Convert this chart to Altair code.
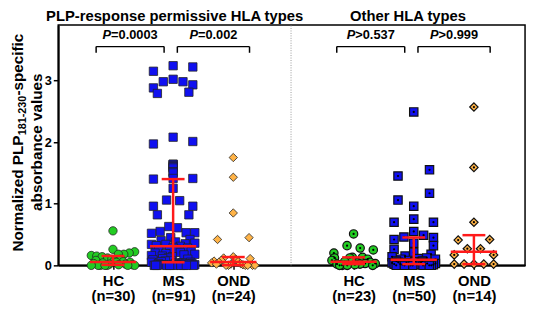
import altair as alt
import pandas as pd
import numpy as np

# ---------------- data ----------------
group_names = ["HC", "MS", "OND", "HC", "MS", "OND"]
group_n = [30, 91, 24, 23, 50, 14]
panel_titles = ["PLP-response permissive HLA types", "Other HLA types"]
ytitle_parts = ["Normalized PLP", "181-230", "-specific"]
ytitle_line2 = "absorbance values"
slots = [1, 2, 3, 5, 6, 7]

hc_perm = [0.56, 0.26, 0.22, 0.20, 0.18, 0.18, 0.16, 0.15, 0.14, 0.12, 0.10, 0.10,
           0.08, 0.07, 0.06, 0.05, 0.05, 0.04, 0.03, 0.02, 0.02, 0.01, 0.01,
           0.0, 0.0, 0.0, 0.0, 0.0, 0.0, 0.0]
ms_perm = [3.24, 3.22, 3.15, 3.02, 2.98, 2.98, 2.93, 2.88, 2.81, 2.79,
           2.08, 2.01, 1.97,
           1.64, 1.64, 1.62, 1.60, 1.58, 1.52, 1.50, 1.41, 1.41, 1.40,
           1.25, 1.06, 1.05, 0.96, 0.96, 0.82, 0.82, 0.63, 0.61, 0.55, 0.53, 0.53, 0.52,
           0.45, 0.42, 0.40, 0.38, 0.36, 0.35, 0.34, 0.34, 0.32, 0.31,
           0.29, 0.28, 0.26, 0.25, 0.24, 0.22, 0.21, 0.20, 0.19, 0.18, 0.17, 0.16,
           0.15, 0.14, 0.12, 0.11, 0.10, 0.09, 0.08, 0.07, 0.06, 0.05,
           0.05, 0.04, 0.04, 0.03, 0.03, 0.03, 0.02, 0.02, 0.02, 0.01, 0.01, 0.01, 0.01,
           0.0, 0.0, 0.0, 0.0, 0.0, 0.0, 0.0, 0.0, 0.0, 0.0]
ond_perm = [1.75, 1.43, 0.85, 0.45, 0.42, 0.14, 0.12, 0.11, 0.10, 0.08, 0.07, 0.06,
            0.05, 0.04, 0.03, 0.02, 0.02, 0.01, 0.0, 0.0, 0.0, 0.0, 0.0, 0.0]
hc_other = [0.51, 0.32, 0.28, 0.25, 0.20, 0.13, 0.13, 0.12, 0.12, 0.10, 0.08, 0.06,
            0.05, 0.04, 0.03, 0.03, 0.02, 0.02, 0.01, 0.0, 0.0, 0.0, 0.0]
ms_other = [2.49, 1.55, 1.45, 1.17, 1.06, 0.96, 0.75, 0.70, 0.70, 0.55, 0.49, 0.46,
            0.45, 0.42, 0.36, 0.32, 0.26, 0.21, 0.18, 0.15, 0.14, 0.12, 0.11, 0.10, 0.10,
            0.08, 0.07, 0.07, 0.06, 0.05, 0.05, 0.04, 0.04, 0.03, 0.03, 0.03, 0.02, 0.02,
            0.02, 0.01, 0.01, 0.01, 0.01, 0.0, 0.0, 0.0, 0.0, 0.0, 0.0, 0.0]
ond_other = [2.57, 1.59, 0.70, 0.42, 0.41, 0.27, 0.27, 0.17, 0.17, 0.02, 0.02, 0.02,
             0.02, 0.02]

series = [hc_perm, ms_perm, ond_perm, hc_other, ms_other, ond_other]

p_labels = ["=0.0003", "=0.002", ">0.537", ">0.999"]
p_pairs = [(0, 1), (1, 2), (3, 4), (4, 5)]

# ---------------- layout helpers ----------------
W, H = 474, 244
XDOM = [0.09, 7.85]
YDOM = [0, 3.9]
xpx = W / (XDOM[1] - XDOM[0])
ypx = H / (YDOM[1] - YDOM[0])

# approximate Liberation Sans Bold advance widths (em units)
CW = {"N": .722, "o": .611, "r": .389, "m": .889, "a": .556, "l": .278, "i": .278,
      "z": .5, "e": .556, "d": .611, " ": .278, "P": .667, "L": .611, "-": .333,
      "s": .556, "p": .611, "c": .556, "f": .333, "=": .584, ">": .584, ".": .278}


def twidth(s, fs):
    return sum(CW.get(ch, .556) for ch in s) * fs


def row_scatter(vals, row_px=9.0):
    """GraphPad-like scatter: values grouped into rows, each row spread sideways."""
    order = sorted(range(len(vals)), key=lambda i: -vals[i])
    res = [0.0] * len(vals)
    rows_ = []
    cur = []
    for i in order:
        if cur and (vals[cur[0]] - vals[i]) * ypx > row_px:
            rows_.append(cur)
            cur = []
        cur.append(i)
    if cur:
        rows_.append(cur)
    for r in rows_:
        k = len(r)
        if k == 1:
            offs = [0.0]
        elif k == 2:
            offs = [16.0, -16.0]
        else:
            half = 20.0 if k <= 5 else 22.0
            grid = list(np.linspace(-half, half, k))
            grid.sort(key=lambda g: (abs(g), -g))
            if k > 5:
                perm = [(j * 7) % k for j in range(k)]
                grid = [grid[p] for p in perm]
            offs = grid
        for i, o in zip(r, offs):
            res[i] = o
    return res


rows = []
stats = []
for gi, vals in enumerate(series):
    offs = row_scatter(vals)
    for v, o in zip(vals, offs):
        rows.append({"g": group_names[gi], "panel": 0 if gi < 3 else 1,
                     "x": slots[gi] + o / xpx, "v": v})
    arr = np.array(vals)
    q1, med, q3 = np.percentile(arr, [25, 50, 75], method="weibull")
    stats.append({"x": slots[gi], "q1": q1, "med": med, "q3": q3})
pts = pd.DataFrame(rows)
st = pd.DataFrame(stats)

xscale = alt.Scale(domain=XDOM, nice=False, zero=False)
yscale = alt.Scale(domain=YDOM, nice=False, zero=False)

label_expr = ""
for s, g, n in zip(slots, group_names, group_n):
    label_expr += f"datum.value == {s} ? ['{g}', '(n={n})'] : "
label_expr += "''"

shape_scale = alt.Scale(domain=["HC", "MS", "OND"], range=["circle", "square", "diamond"])
fill_scale = alt.Scale(domain=["HC", "MS", "OND"], range=["#22cc22", "#1010f0", "#ffb347"])
size_scale = alt.Scale(domain=["HC", "MS", "OND"], range=[72, 72, 100])

x_axis = alt.Axis(values=slots, labelExpr=label_expr, title=None, grid=False,
                  tickSize=4, tickWidth=1.5, tickColor="black", labelFontSize=15,
                  labelFontWeight="bold", labelPadding=4, labelLineHeight=16,
                  domain=True, domainColor="black", domainWidth=2, labelColor="black",
                  labelBaseline="top")
y_axis = alt.Axis(values=[0, 1, 2, 3], title=None,
                  grid=False, tickSize=5, tickWidth=1.5, labelFontSize=13, labelFontWeight="bold",
                  labelPadding=2, domainWidth=2, domainColor="black", tickColor="black",
                  labelColor="black")


def X(field):
    return alt.X(field, scale=xscale, axis=x_axis)


def Y(field):
    return alt.Y(field, scale=yscale, axis=y_axis)


base = alt.Chart(pts)
points_left = base.transform_filter("datum.panel == 0").mark_point(
    filled=True, stroke="#222222", strokeWidth=0.8, opacity=1).encode(
    x=X("x:Q"), y=Y("v:Q"),
    shape=alt.Shape("g:N", scale=shape_scale, legend=None),
    fill=alt.Fill("g:N", scale=fill_scale, legend=None),
    size=alt.Size("g:N", scale=size_scale, legend=None),
)
points_right = base.transform_filter("datum.panel == 1").mark_point(
    filled=True, stroke="#111111", strokeWidth=1.2, opacity=1).encode(
    x=X("x:Q"), y=Y("v:Q"),
    shape=alt.Shape("g:N", scale=shape_scale, legend=None),
    fill=alt.Fill("g:N", scale=fill_scale, legend=None),
    size=alt.Size("g:N", scale=size_scale, legend=None),
)
dots_right = base.transform_filter("datum.panel == 1").mark_point(
    filled=True, color="black", size=5, opacity=1).encode(x=X("x:Q"), y=Y("v:Q"))

sb = alt.Chart(st)
red = "#ff1a1a"
vline = sb.mark_rule(color=red, strokeWidth=2.5).encode(
    x=X("x:Q"), y=Y("q1:Q"), y2="q3:Q")
medline = sb.transform_calculate(a="datum.x - 0.385", b="datum.x + 0.385").mark_rule(
    color=red, strokeWidth=2.5).encode(x=X("a:Q"), x2="b:Q", y=Y("med:Q"))
cap1 = sb.transform_calculate(a="datum.x - 0.19", b="datum.x + 0.19").mark_rule(
    color=red, strokeWidth=2.5).encode(x=X("a:Q"), x2="b:Q", y=Y("q1:Q"))
cap3 = sb.transform_calculate(a="datum.x - 0.19", b="datum.x + 0.19").mark_rule(
    color=red, strokeWidth=2.5).encode(x=X("a:Q"), x2="b:Q", y=Y("q3:Q"))

# brackets
br_rows = []
for k, ((a, b), lab) in enumerate(zip(p_pairs, p_labels)):
    if k % 2 == 0:
        x1, x2 = slots[a] - 0.28, slots[b] - 0.15
    else:
        x1, x2 = slots[a] + 0.07, slots[b] + 0.27
    br_rows.append({"x1": x1, "x2": x2, "xm": (x1 + x2) / 2, "lab": lab,
                    "ytop": 3.55, "ybot": 3.45, "yt": 3.67})
br = pd.DataFrame(br_rows)
bb = alt.Chart(br)
br_h = bb.mark_rule(color="black", strokeWidth=1.5).encode(
    x=X("x1:Q"), x2="x2:Q", y=Y("ytop:Q"))
br_l = bb.mark_rule(color="black", strokeWidth=1.5).encode(
    x=X("x1:Q"), y=Y("ybot:Q"), y2="ytop:Q")
br_r = bb.mark_rule(color="black", strokeWidth=1.5).encode(
    x=X("x2:Q"), y=Y("ybot:Q"), y2="ytop:Q")

FS = 13
ptxts = []
for i, lab in enumerate(p_labels):
    d = br.iloc[[i]]
    dx = (0.667 * FS) - (0.667 * FS + twidth(lab, FS)) / 2
    ptxts.append(alt.Chart(d).mark_text(text="P", fontStyle="italic", fontWeight="bold",
                                        fontSize=FS, align="right", baseline="alphabetic",
                                        color="black", dx=dx).encode(
        x=X("xm:Q"), y=Y("yt:Q")))
    ptxts.append(alt.Chart(d).mark_text(fontWeight="bold", fontSize=FS, align="left",
                                        baseline="alphabetic", color="black", dx=dx).encode(
        x=X("xm:Q"), y=Y("yt:Q"), text="lab:N"))

# separator
sep = alt.Chart(pd.DataFrame({"x": [3.96], "y0": [0], "y1": [YDOM[1]]})).mark_rule(
    color="#999999", strokeWidth=1, strokeDash=[1, 1.5]).encode(
    x=X("x:Q"), y=Y("y0:Q"), y2="y1:Q")

# panel titles
tdf = pd.DataFrame({"t": panel_titles,
                    "x": [(XDOM[0] + 3.96) / 2, (3.96 + XDOM[1]) / 2]})
titles = alt.Chart(tdf).mark_text(fontSize=15, fontWeight="bold", baseline="alphabetic",
                                  align="center", color="black").encode(
    x=X("x:Q"), y=alt.value(-4), text="t:N")

# y-axis title (rotated, with real subscript) built from text pieces
TFS, SFS = 15.5, 11
yb1 = -36          # baseline of line 1, px from plot's left edge
yb2 = yb1 + 20     # baseline of line 2
y_start = H - 14   # where line 1 begins (bottom), px from plot's top
seg_len = [twidth(ytitle_parts[0], TFS), twidth(ytitle_parts[1], SFS)]
ytitle_layers = [
    alt.Chart(pd.DataFrame({"t": [ytitle_parts[0]]})).mark_text(
        fontSize=TFS, fontWeight="bold", angle=270, align="left", baseline="alphabetic",
        color="black").encode(x=alt.value(yb1), y=alt.value(y_start), text="t:N"),
    alt.Chart(pd.DataFrame({"t": [ytitle_parts[1]]})).mark_text(
        fontSize=SFS, fontWeight="bold", angle=270, align="left", baseline="alphabetic",
        color="black").encode(x=alt.value(yb1 + 3), y=alt.value(y_start - seg_len[0]), text="t:N"),
    alt.Chart(pd.DataFrame({"t": [ytitle_parts[2]]})).mark_text(
        fontSize=TFS, fontWeight="bold", angle=270, align="left", baseline="alphabetic",
        color="black").encode(x=alt.value(yb1), y=alt.value(y_start - seg_len[0] - seg_len[1]),
                              text="t:N"),
    alt.Chart(pd.DataFrame({"t": [ytitle_line2]})).mark_text(
        fontSize=TFS, fontWeight="bold", angle=270, align="center", baseline="alphabetic",
        color="black").encode(x=alt.value(yb2), y=alt.value(H / 2 - 3), text="t:N"),
]

chart = alt.layer(points_left, sep, points_right, dots_right, vline, medline, cap1, cap3,
                  br_h, br_l, br_r, *ptxts, titles, *ytitle_layers).properties(
    width=W, height=H,
    autosize=alt.AutoSizeParams(type="none"),
    padding={"left": 51, "top": 15, "right": 3, "bottom": 42},
).configure(font="Liberation Sans").configure_view(stroke="black", strokeWidth=1.5)

chart.save("out.html", embed_options={"renderer": "svg", "actions": False})
